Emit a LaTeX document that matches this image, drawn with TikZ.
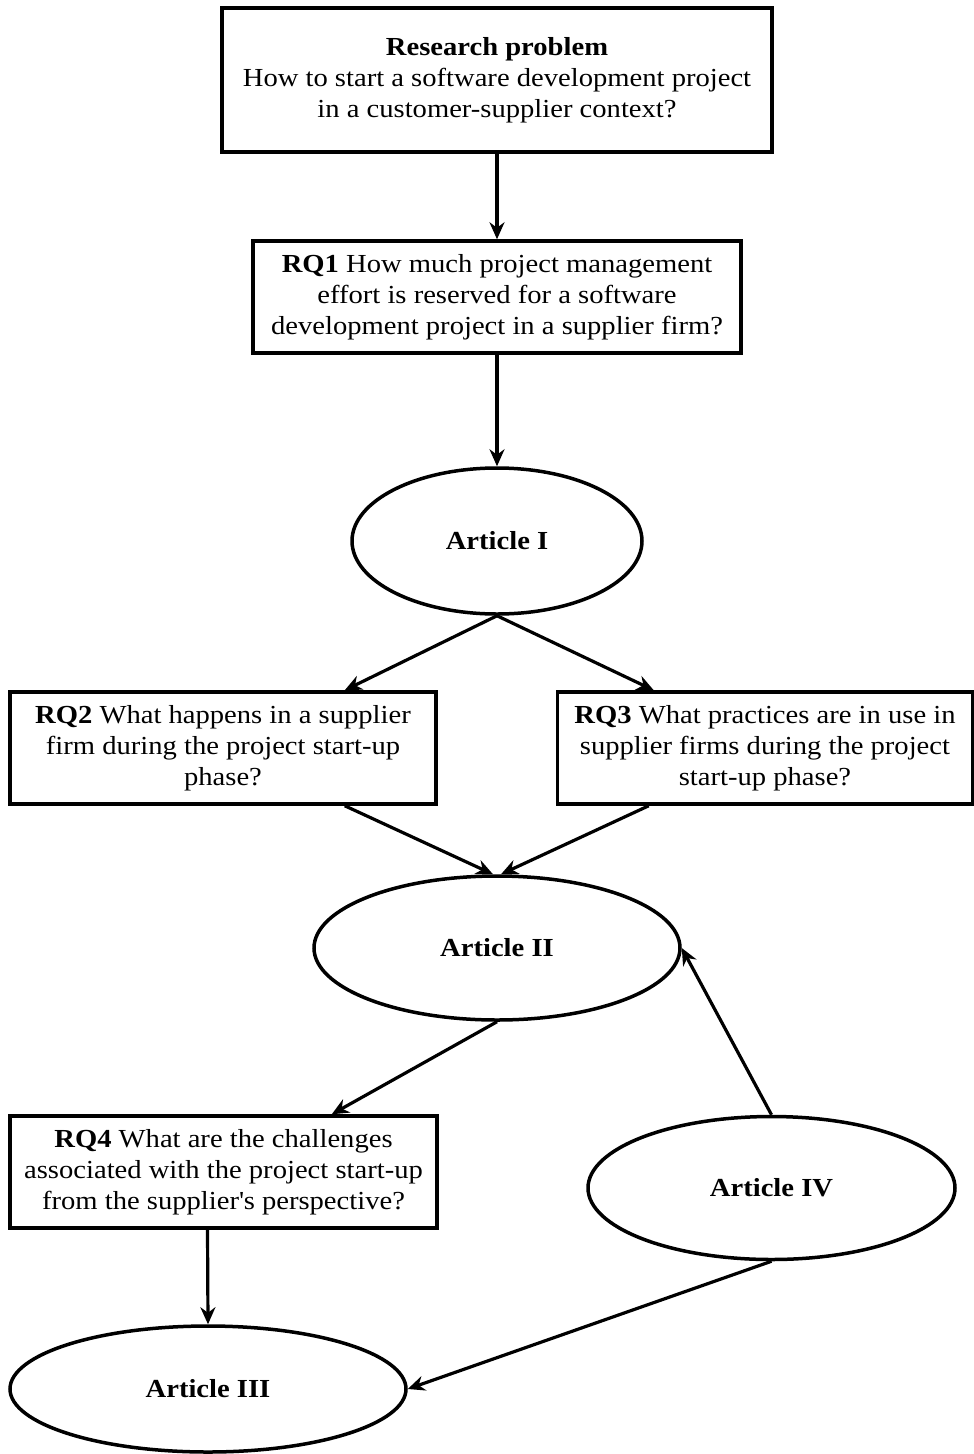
\documentclass[tikz,border=0pt]{standalone}
\usepackage{fontspec}
\setmainfont[FakeStretch=1.1]{Liberation Serif}
\usetikzlibrary{arrows.meta,shapes.geometric}
\begin{document}
\begin{tikzpicture}[x=1pt,y=-1pt,
  every node/.style={font=\fontsize{26}{31}\selectfont},
  qbox/.style={draw=black, line width=3.5pt, fill=white, align=center, inner sep=0pt},
  artbox/.style={draw=black, line width=3.5pt, fill=white, ellipse, inner sep=0pt, font=\fontsize{26}{31}\selectfont\bfseries},
  link/.style={line width=3.2pt, -{Stealth[length=17pt,width=15pt]}}]
\useasboundingbox (0,0) rectangle (974,1454);

% question boxes
\node[qbox, minimum width=550pt, minimum height=144pt] (rp) at (497,80)
  {\textbf{Research problem}\\How to start a software development project\\in a customer-supplier context?};
\node[qbox, minimum width=488pt, minimum height=112pt] (rq1) at (497,297)
  {\textbf{RQ1} How much project management\\effort is reserved for a software\\development project in a supplier firm?};
\node[qbox, minimum width=426pt, minimum height=112pt] (rq2) at (223,748)
  {\textbf{RQ2} What happens in a supplier\\firm during the project start-up\\phase?};
\node[qbox, minimum width=415pt, minimum height=112pt] (rq3) at (765,748)
  {\textbf{RQ3} What practices are in use in\\supplier firms during the project\\start-up phase?};
\node[qbox, minimum width=427pt, minimum height=112pt] (rq4) at (223.5,1172)
  {\textbf{RQ4} What are the challenges\\associated with the project start-up\\from the supplier\textquotesingle s perspective?};

% articles
\node[artbox, minimum width=290pt, minimum height=146pt] (a1) at (497,541) {Article I};
\node[artbox, minimum width=366pt, minimum height=144pt] (a2) at (497,948) {Article II};
\node[artbox, minimum width=396pt, minimum height=126pt] (a3) at (208,1389) {Article III};
\node[artbox, minimum width=367pt, minimum height=143pt] (a4) at (771.5,1188) {Article IV};

% connectors
\draw[link] (rp.south) -- (rq1.north);
\draw[link] (rq1.south) -- (a1.north);
\draw[link] (a1.south) -- ([xshift=-93pt]rq2.north east);
\draw[link] (a1.south) -- ([xshift=98pt]rq3.north west);
\draw[link] ([xshift=-93pt]rq2.south east) -- ([xshift=-4pt]a2.north);
\draw[link] ([xshift=93pt]rq3.south west) -- ([xshift=4pt]a2.north);
\draw[link] (a2.south) -- ([xshift=-107pt]rq4.north east);
\draw[link] ([xshift=-16pt]rq4.south) -- (a3.north);
\draw[link] (a4.north) -- (a2.east);
\draw[link] (a4.south) -- (a3.east);
\end{tikzpicture}
\end{document}
